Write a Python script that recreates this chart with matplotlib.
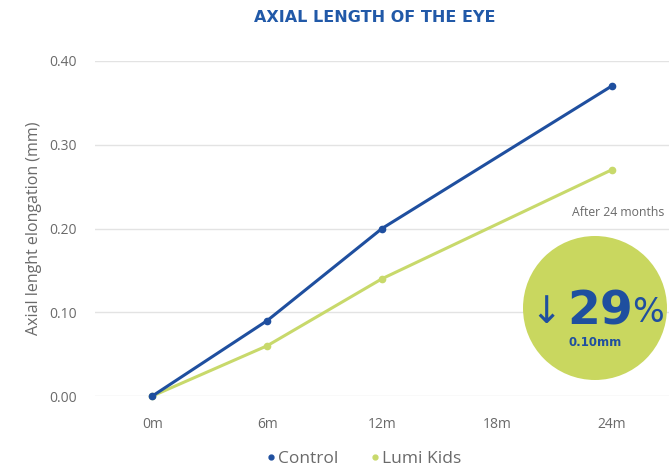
import matplotlib
matplotlib.use("Agg")
import matplotlib.pyplot as plt
from matplotlib.patches import Ellipse
from matplotlib.lines import Line2D

months = [0, 6, 12, 24]
tick_pos = [0, 6, 12, 18, 24]
tick_labels = ["0m", "6m", "12m", "18m", "24m"]
control = [0.0, 0.09, 0.20, 0.37]
lumi = [0.0, 0.06, 0.14, 0.27]
yticks = [0.0, 0.1, 0.2, 0.3, 0.4]

blue = "#1f4f9f"
green = "#c8d96b"
circle_green = "#c9d75f"
gray = "#6a6a6a"
font = "Open Sans"

W, H = 669, 468
fig = plt.figure(figsize=(W/100, H/100), dpi=100)
ax = fig.add_axes([95/W, 1-396/H, 1-95/W, (396-61)/H])
ax.set_xlim(-3, 27)
ax.set_ylim(0, 0.4)
for s in ax.spines.values():
    s.set_visible(False)
ax.set_yticks(yticks)
ax.set_yticklabels([f"{v:.2f}" for v in yticks], color=gray, fontsize=10, family=font)
ax.set_xticks(tick_pos)
ax.set_xticklabels(tick_labels, color=gray, fontsize=10, family=font)
ax.tick_params(length=0, axis='both')
ax.tick_params(axis='y', pad=13)
ax.tick_params(axis='x', pad=15)
ax.grid(axis='y', color="#e3e3e3", linewidth=1)
ax.set_axisbelow(True)
ax.set_ylabel("Axial lenght elongation (mm)", color=gray, fontsize=11.5, family=font, labelpad=5)

ax.plot(months, lumi, color=green, linewidth=2.2, marker='o', markersize=4.5, clip_on=False)
ax.plot(months, control, color=blue, linewidth=2.2, marker='o', markersize=4.5, clip_on=False)

fig.text(375/W, 1-17/H, "AXIAL LENGTH OF THE EYE", ha='center', va='center',
         color="#2159a8", fontsize=11.5, fontweight='heavy', family='DejaVu Sans')

# annotation
fig.text(572/W, 1-213/H, "After 24 months", ha='left', va='center', color=gray, fontsize=8.8, family=font)
cx, cy, r = 595, 308, 72
fig.patches.append(Ellipse((cx/W, 1-cy/H), 2*r/W, 2*r/H, transform=fig.transFigure,
                           facecolor=circle_green, edgecolor='none', zorder=5))
fig.text(546/W, 1-313/H, "\u2193", ha='center', va='center', color=blue, fontsize=27, zorder=6,
         family='DejaVu Sans')
fig.text(600/W, 1-312/H, "29", ha='center', va='center', color=blue, fontsize=34,
         fontweight='bold', zorder=6, family='DejaVu Sans')
fig.text(648/W, 1-313/H, "%", ha='center', va='center', color=blue, fontsize=24, zorder=6,
         family='DejaVu Sans')
fig.text(595/W, 1-342/H, "0.10mm", ha='center', va='center', color=blue, fontsize=8.5,
         fontweight='bold', zorder=6, family='DejaVu Sans')

handles = [Line2D([], [], color=blue, marker='o', linestyle='none', markersize=3.5),
           Line2D([], [], color=green, marker='o', linestyle='none', markersize=3.5)]
fig.legend(handles, ["Control", "Lumi Kids"], loc='center', bbox_to_anchor=(362/W, 1-459/H),
           ncol=2, frameon=False, handletextpad=-0.1, columnspacing=1.6,
           labelcolor=gray, handlelength=1.0, prop={'family': font, 'size': 12.5})

fig.savefig("out.png", dpi=100)
